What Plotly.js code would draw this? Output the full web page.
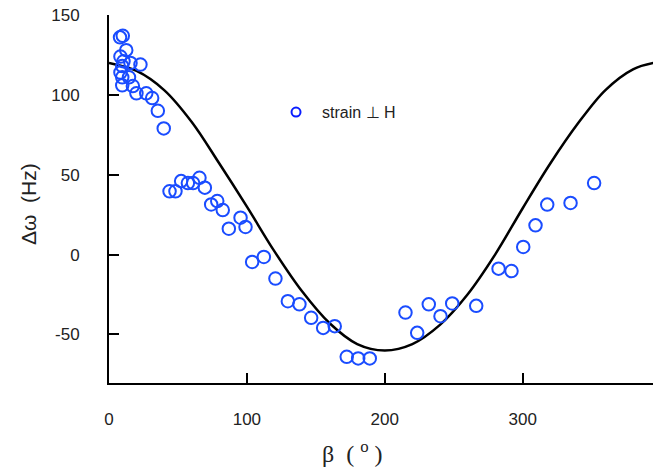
<!DOCTYPE html>
<html>
<head>
<meta charset="utf-8">
<script src="https://cdn.plot.ly/plotly-3.0.1.min.js"></script>
<style>html,body{margin:0;padding:0;background:#fff;}#chart{width:653px;height:472px;}</style>
</head>
<body>
<div id="chart"></div>
<script>
// Measured points: beta (degrees) and frequency shift (Hz)
var betaData = [8.0, 10.0, 12.5, 8.3, 10.5, 15.6, 22.8, 9.6, 8.3, 9.6, 14.5, 9.6, 17.3, 19.9, 27.0, 31.3, 35.4, 39.7,
  43.9, 48.2, 52.3, 57.2, 61.0, 65.6, 69.5, 74.1, 78.5, 82.5, 86.9, 95.4, 99.0, 103.8, 112.3, 120.7,
  129.7, 138.1, 146.6, 155.3, 163.7, 172.4, 180.7, 189.1, 215.0, 223.5, 231.9, 240.4, 248.9, 266.3,
  282.5, 291.9, 300.4, 309.3, 317.8, 334.7, 351.8];
var dOmegaData = [136, 137, 128, 124, 121, 120, 119, 118, 114, 111, 111, 106, 105.5, 101, 101, 98, 90, 79,
  39.6, 39.6, 46, 44.8, 44.8, 48.1, 41.9, 31.4, 33.5, 27.9, 16.2, 23.1, 17.3, -4.6, -1.5, -15,
  -29.2, -31.1, -39.6, -45.9, -44.8, -64, -65, -65, -36.3, -49, -31.1, -38.6, -30.6, -32.1,
  -8.8, -10.3, 4.8, 18.3, 31.3, 32.3, 44.8];

// Theory curve
var betaCurve = [0, 20, 40, 60, 80, 100, 120, 140, 160, 180, 200, 220, 240, 260, 280, 300, 320, 340, 360, 380, 395];
var dOmegaCurve = [120, 115, 103, 83, 57, 30, 2, -23, -43, -56, -60, -56, -44, -25, 0, 29, 57, 82, 103, 116, 120];

var xTicks = [0, 100, 200, 300];
var yTicks = [-50, 0, 50, 100, 150];

var seriesName = 'strain \u22a5 H';

var traces = [
  {
    x: betaCurve, y: dOmegaCurve, type: 'scatter', mode: 'lines',
    line: {color: '#000000', width: 2.5, shape: 'spline', smoothing: 1},
    showlegend: false, hoverinfo: 'skip'
  },
  {
    x: betaData, y: dOmegaData, type: 'scatter', mode: 'markers', name: seriesName,
    showlegend: false,
    marker: {symbol: 'circle-open', size: 12.5, color: '#1a4cff', line: {width: 2, color: '#1a4cff'}}
  },
  {
    // legend entry only (smaller symbol, as in the original legend)
    x: [null], y: [null], type: 'scatter', mode: 'markers', name: seriesName,
    marker: {symbol: 'circle-open', size: 9, color: '#0a1eff', line: {width: 2, color: '#0a1eff'}}
  }
];

var tickFont = {family: 'Liberation Sans, Arial, sans-serif', size: 17, color: '#222'};

var layout = {
  width: 653, height: 472,
  margin: {l: 109, r: 0, t: 15, b: 89, pad: 0},
  paper_bgcolor: '#fff', plot_bgcolor: '#fff',
  showlegend: true,
  legend: {x: 0.296, y: 0.736, xanchor: 'left', yanchor: 'middle', bgcolor: 'rgba(0,0,0,0)',
    itemwidth: 42,
    font: {family: 'Liberation Sans, Arial, sans-serif', size: 16, color: '#222'}},
  xaxis: {
    range: [0, 394.5], tickvals: xTicks, ticktext: xTicks.map(String),
    showline: true, linecolor: '#000', linewidth: 2, mirror: false,
    ticks: 'inside', ticklen: 10, tickwidth: 2, tickcolor: '#000',
    showgrid: false, zeroline: false, tickfont: tickFont, ticklabelstandoff: 20
  },
  yaxis: {
    range: [-80.4, 150], tickvals: yTicks, ticktext: yTicks.map(String),
    showline: true, linecolor: '#000', linewidth: 2, mirror: false,
    ticks: 'inside', ticklen: 10, tickwidth: 2, tickcolor: '#000',
    showgrid: false, zeroline: false, tickfont: tickFont, ticklabelstandoff: 24
  },
  annotations: [
    {text: 'β  ( <sup>o</sup> )',
     xref: 'paper', yref: 'paper', x: 0.4467, y: -0.1875, xanchor: 'center', yanchor: 'middle',
     showarrow: false, font: {family: 'Liberation Serif, Times New Roman, serif', size: 24, color: '#222'}},
    {text: 'Δω  (Hz)', textangle: -90,
     xref: 'paper', yref: 'paper', x: -0.149, y: 0.486, xanchor: 'center', yanchor: 'middle',
     showarrow: false, font: {family: 'Liberation Sans, Arial, sans-serif', size: 21, color: '#222'}}
  ]
};

Plotly.newPlot('chart', traces, layout, {displayModeBar: false, staticPlot: true});
</script>
</body>
</html>
